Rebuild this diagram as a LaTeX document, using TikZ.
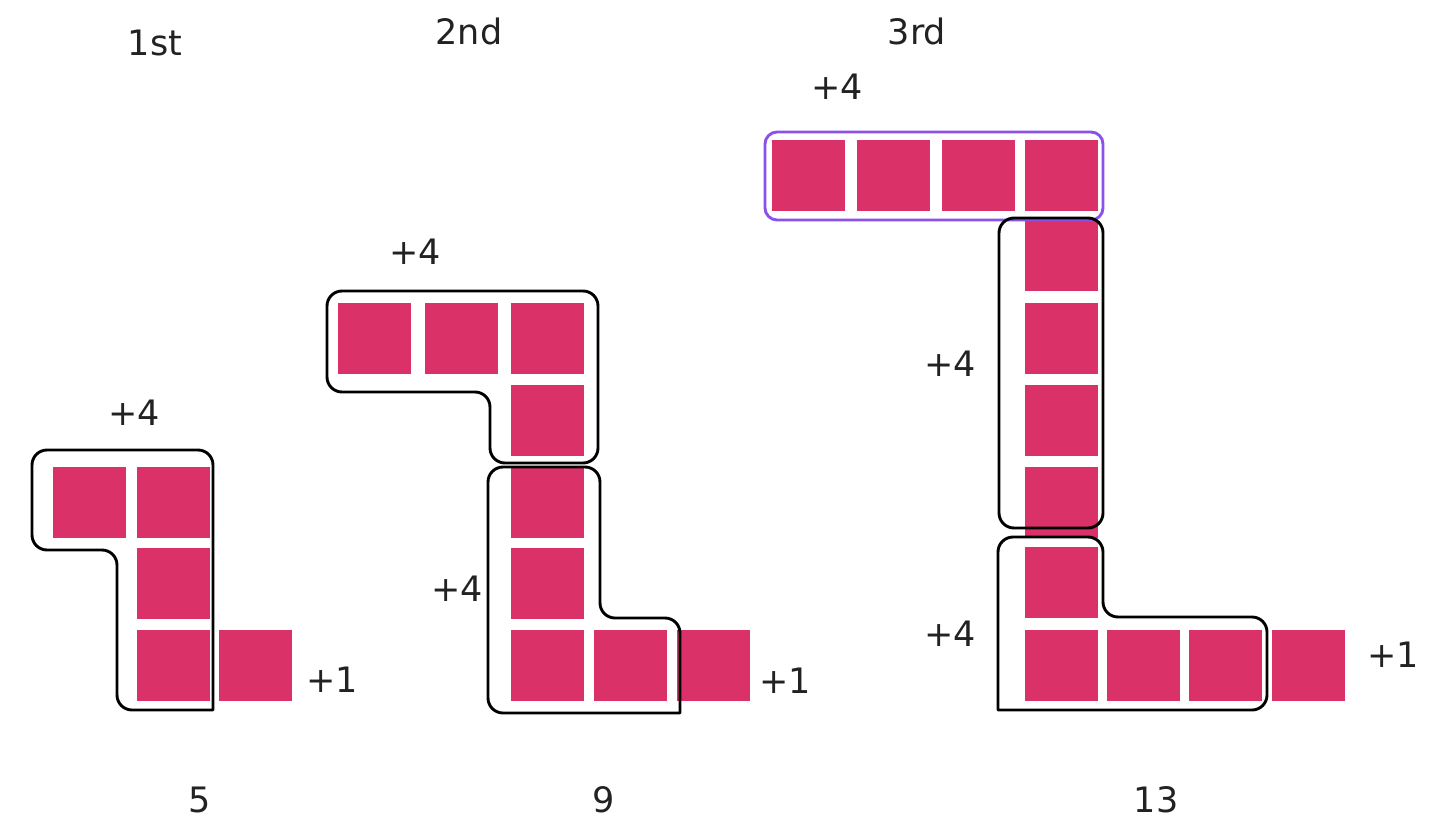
\documentclass[tikz,border=0pt]{standalone}
\usepackage{fontspec}
\setmainfont{DejaVu Sans}
\definecolor{sqpink}{RGB}{217,49,104}
\definecolor{violetline}{RGB}{138,82,235}
\definecolor{txt}{RGB}{34,34,34}
\begin{document}
\begin{tikzpicture}[x=1pt,y=-1pt,
 sq/.style={fill=sqpink,draw=none,minimum width=73pt,minimum height=71pt,inner sep=0pt,anchor=north west},
 outl/.style={draw=black,line width=2.9pt,rounded corners=15pt,line cap=round,line join=round},
 lbl/.style={font=\fontsize{35}{41}\selectfont,text=txt,inner sep=0pt}]
\useasboundingbox[fill=white] (0,0) rectangle (1453,819);
% ---- figure 1
\node[sq] (a1) at (53,467) {};
\node[sq] (a2) at (137,467) {};
\node[sq] (a3) at (137,548) {};
\node[sq] (a4) at (137,630) {};
\node[sq] (a5) at (219,630) {};
% ---- figure 2
\node[sq] (b1) at (338,303) {};
\node[sq] (b2) at (425,303) {};
\node[sq] (b3) at (511,303) {};
\node[sq] (b4) at (511,385) {};
\node[sq] (b5) at (511,467) {};
\node[sq] (b6) at (511,548) {};
\node[sq] (b7) at (511,630) {};
\node[sq] (b8) at (594,630) {};
\node[sq] (b9) at (677,630) {};
% ---- figure 3
\node[sq] (c1) at (772,140) {};
\node[sq] (c2) at (857,140) {};
\node[sq] (c3) at (942,140) {};
\node[sq] (c4) at (1025,140) {};
\node[sq] (c5) at (1025,220) {};
\node[sq] (c6) at (1025,303) {};
\node[sq] (c7) at (1025,385) {};
\node[sq] (c8) at (1025,467) {};
\node[sq] (c9) at (1025,547) {};
\node[sq] (c10) at (1025,630) {};
\node[sq] (c11) at (1107,630) {};
\node[sq] (c12) at (1189,630) {};
\node[sq] (c13) at (1272,630) {};
% ---- outlines
\draw[outl] (213,710) -- (117,710) -- (117,550) -- (32,550) -- (32,450) -- (213,450) -- (213,710);
\draw[outl] (450,291) -- (598,291) -- (598,463) -- (490,463) -- (490,392) -- (327,392) -- (327,291) -- cycle;
\draw[outl] (680,713) -- (488,713) -- (488,467) -- (600,467) -- (600,618) -- (680,618) -- (680,713);
\draw[outl,draw=violetline,rounded corners=12pt] (765,132) rectangle (1103,220);
\draw[outl] (999,218) rectangle (1103,528);
\draw[outl] (998,710) -- (998,537) -- (1103,537) -- (1103,617) -- (1267,617) -- (1267,710) -- (998,710);
% ---- labels
\node[lbl] (t1) at (155,43) {1st};
\node[lbl] (t2) at (469,31) {2nd};
\node[lbl] (t3) at (917,31) {3rd};
\node[lbl] (p1) at (134,413) {+4};
\node[lbl] (q1) at (332,680) {+1};
\node[lbl] (p2) at (415,252) {+4};
\node[lbl] (p3) at (457,589) {+4};
\node[lbl] (q2) at (785,681) {+1};
\node[lbl] (p4) at (837,87) {+4};
\node[lbl] (p5) at (950,364) {+4};
\node[lbl] (p6) at (950,634) {+4};
\node[lbl] (q3) at (1393,655) {+1};
\node[lbl] (n1) at (200,800) {5};
\node[lbl] (n2) at (604,800) {9};
\node[lbl] (n3) at (1156,800) {13};
\end{tikzpicture}
\end{document}
